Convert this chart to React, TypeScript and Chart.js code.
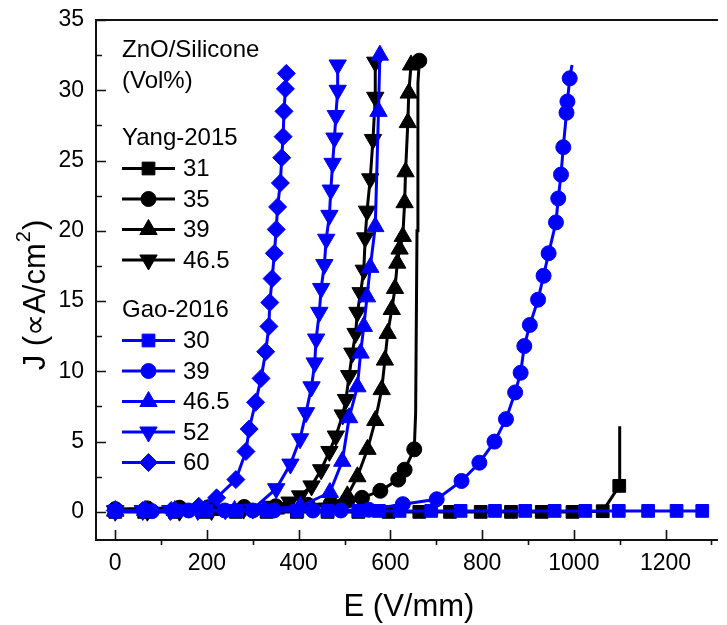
import React, { useEffect, useRef } from 'react';
import { Chart, registerables } from 'chart.js';
import { drawPoint } from 'chart.js/helpers';

Chart.register(...registerables);

// ---------- axis ticks ----------
const X_MAJOR = [0, 200, 400, 600, 800, 1000, 1200];
const X_MINOR = [100, 300, 500, 700, 900, 1100, 1300];
const Y_MAJOR = [0, 5, 10, 15, 20, 25, 30, 35];
const Y_MINOR = [2.5, 7.5, 12.5, 17.5, 22.5, 27.5, 32.5];

// ---------- text ----------
const X_TITLE = 'E (V/mm)';
const Y_TITLE_MAIN = 'J (\u221DA/cm';
const Y_TITLE_SUP = '2';
const Y_TITLE_END = ')';
const LEGEND_HEADER = ['ZnO/Silicone', '(Vol%)'];
const GROUP_YANG = 'Yang-2015';
const GROUP_GAO = 'Gao-2016';

// ---------- Yang-2015 (black) ----------
const yang31E = [0, 63, 130, 196, 263, 330, 396, 463, 530, 596, 663, 730, 797, 863, 930, 997, 1063, 1099];
const yang31J = [0.0, 0.0, 0.0, 0.0, 0.0, 0.0, 0.0, 0.0, 0.0, 0.0, 0.0, 0.0, 0.0, 0.0, 0.0, 0.0, 0.05, 1.85];
const yang31TailE = [1100];
const yang31TailJ = [6.1];

const yang35E = [0, 70, 140, 203, 281, 350, 420, 470, 506, 538, 578, 617, 631, 652];
const yang35J = [0.2, 0.25, 0.3, 0.33, 0.35, 0.4, 0.5, 0.6, 0.8, 1.0, 1.5, 2.3, 3.0, 4.45];
const yang35JumpE = [655, 658, 660];
const yang35JumpJ = [7.0, 20.0, 30.5];
const yang35TopE = [663];
const yang35TopJ = [32.1];

const yang39E = [0, 70, 140, 210, 280, 350, 420, 470, 506, 528, 550, 567, 581, 588, 594, 603, 610, 615, 620, 627, 631, 633, 638, 640, 645];
const yang39J = [0.05, 0.05, 0.1, 0.1, 0.15, 0.2, 0.35, 0.5, 1.14, 2.5, 4.45, 6.5, 8.7, 10.8, 12.7, 14.4, 15.9, 17.7, 18.7, 19.6, 22.0, 24.2, 27.7, 29.8, 31.8];

const yang46E = [0, 70, 140, 210, 280, 340, 380, 403, 428, 449, 467, 481, 496, 503, 510, 517, 524, 528, 535, 542, 545, 549, 556, 562, 567, 567];
const yang46J = [0.05, 0.05, 0.05, 0.1, 0.2, 0.4, 0.7, 1.14, 1.85, 3.0, 4.3, 5.4, 6.9, 8.0, 9.7, 11.3, 12.7, 14.2, 15.6, 17.2, 19.5, 21.4, 23.7, 26.5, 29.5, 32.0];

// ---------- Gao-2016 (blue) ----------
const gao30E = [0, 66, 132, 198, 265, 331, 397, 463, 531, 575, 620, 689, 753, 828, 894, 958, 1025, 1098, 1162, 1224, 1280];
const gao30J = [0.07, 0.07, 0.07, 0.07, 0.07, 0.07, 0.07, 0.07, 0.07, 0.07, 0.07, 0.07, 0.07, 0.07, 0.07, 0.07, 0.07, 0.07, 0.07, 0.07, 0.07];

const gao39E = [0, 80, 160, 239, 300, 346, 431, 492, 553, 627, 701, 755, 794, 827, 852, 872, 884, 892, 904, 922, 934, 945, 961, 966, 972, 977, 984, 986, 991];
const gao39J = [0.05, 0.05, 0.1, 0.1, 0.1, 0.1, 0.1, 0.1, 0.15, 0.55, 0.9, 2.2, 3.5, 5.0, 6.6, 8.5, 9.9, 11.8, 13.3, 15.1, 16.8, 18.4, 20.6, 22.3, 24.0, 25.95, 28.4, 29.2, 30.85];
const gao39TailE = [996];
const gao39TailJ = [31.8];

const gao46E = [0, 65, 130, 195, 260, 325, 403, 468, 495, 510, 528, 535, 542, 549, 556, 567, 574, 577];
const gao46J = [0.1, 0.1, 0.1, 0.1, 0.1, 0.15, 0.4, 1.38, 3.6, 6.7, 8.9, 11.3, 13.2, 15.3, 17.4, 20.3, 28.5, 32.5];

const gao52E = [0, 60, 120, 180, 240, 300, 351, 382, 403, 416, 428, 435, 438, 445, 449, 456, 460, 467, 470, 474, 478, 481, 485, 485];
const gao52J = [0.1, 0.1, 0.1, 0.1, 0.15, 0.2, 1.65, 3.4, 5.2, 7.06, 8.9, 10.6, 12.3, 14.2, 15.9, 17.6, 19.4, 21.1, 22.9, 24.8, 26.6, 28.2, 30.0, 31.8];

const gao60E = [0, 60, 122, 182, 221, 263, 285, 292, 306, 318, 328, 335, 337, 342, 347, 351, 354, 360, 363, 366, 368, 371, 373];
const gao60J = [0.1, 0.1, 0.1, 0.4, 1.0, 2.3, 4.3, 5.9, 7.8, 9.5, 11.4, 13.2, 14.9, 16.6, 18.4, 20.1, 21.7, 23.4, 25.2, 26.7, 28.5, 30.1, 31.2];

const BLACK = '#000000';
const BLUE = '#0000FF';
const FONT = '"Liberation Sans", Arial, Helvetica, sans-serif';

type Pt = { x: number; y: number; m: boolean };
const pts = (E: number[], J: number[], marker = true): Pt[] => E.map((e, i) => ({ x: e, y: J[i], m: marker }));

type Series = { label: string; color: string; style: string; rotation: number; radius: number; data: Pt[] };

const yangSeries: Series[] = [
  { label: '31', color: BLACK, style: 'rect', rotation: 0, radius: 9, data: [...pts(yang31E, yang31J), ...pts(yang31TailE, yang31TailJ, false)] },
  { label: '35', color: BLACK, style: 'circle', rotation: 0, radius: 7.5, data: [...pts(yang35E, yang35J), ...pts(yang35JumpE, yang35JumpJ, false), ...pts(yang35TopE, yang35TopJ)] },
  { label: '39', color: BLACK, style: 'triangle', rotation: 0, radius: 10, data: pts(yang39E, yang39J) },
  { label: '46.5', color: BLACK, style: 'triangle', rotation: 180, radius: 10, data: pts(yang46E, yang46J) },
];
const gaoSeries: Series[] = [
  { label: '30', color: BLUE, style: 'rect', rotation: 0, radius: 9, data: pts(gao30E, gao30J) },
  { label: '39', color: BLUE, style: 'circle', rotation: 0, radius: 7.5, data: [...pts(gao39E, gao39J), ...pts(gao39TailE, gao39TailJ, false)] },
  { label: '46.5', color: BLUE, style: 'triangle', rotation: 0, radius: 10, data: pts(gao46E, gao46J) },
  { label: '52', color: BLUE, style: 'triangle', rotation: 180, radius: 10, data: pts(gao52E, gao52J) },
  { label: '60', color: BLUE, style: 'rectRot', rotation: 0, radius: 9, data: pts(gao60E, gao60J) },
];

const framePlugin = {
  id: 'frame',
  beforeDatasetsDraw(chart: any) {
    const { ctx, chartArea: a, scales } = chart;
    const x = scales.x;
    const y = scales.y;
    ctx.save();
    ctx.strokeStyle = '#111';
    ctx.lineWidth = 2;
    ctx.beginPath();
    ctx.moveTo(a.right + 2, a.top);
    ctx.lineTo(a.left, a.top);
    ctx.lineTo(a.left, a.bottom);
    ctx.lineTo(a.right + 2, a.bottom);
    ctx.stroke();
    ctx.lineWidth = 1.6;
    ctx.beginPath();
    X_MAJOR.forEach((v) => {
      const p = Math.round(x.getPixelForValue(v)) + 0.5;
      ctx.moveTo(p, a.bottom);
      ctx.lineTo(p, a.bottom - 10);
    });
    X_MINOR.forEach((v) => {
      const p = Math.round(x.getPixelForValue(v)) + 0.5;
      ctx.moveTo(p, a.bottom);
      ctx.lineTo(p, a.bottom + 5);
    });
    Y_MAJOR.forEach((v) => {
      const p = Math.round(y.getPixelForValue(v)) + 0.5;
      ctx.moveTo(a.left, p);
      ctx.lineTo(a.left + 10, p);
    });
    Y_MINOR.forEach((v) => {
      const p = Math.round(y.getPixelForValue(v)) + 0.5;
      ctx.moveTo(a.left, p);
      ctx.lineTo(a.left + 6, p);
    });
    ctx.stroke();
    ctx.restore();
  },
  afterDraw(chart: any) {
    const { ctx, chartArea: a } = chart;
    ctx.save();
    ctx.fillStyle = '#000';
    // x title
    ctx.font = `31px ${FONT}`;
    ctx.textAlign = 'center';
    ctx.textBaseline = 'middle';
    ctx.fillText(X_TITLE, (a.left + a.right) / 2 + 3, 607);
    // y title with superscript
    ctx.save();
    ctx.translate(36, 296);
    ctx.rotate(-Math.PI / 2);
    ctx.textAlign = 'left';
    ctx.font = `31px ${FONT}`;
    const w1 = ctx.measureText(Y_TITLE_MAIN).width;
    const w3 = ctx.measureText(Y_TITLE_END).width;
    ctx.font = `20px ${FONT}`;
    const w2 = ctx.measureText(Y_TITLE_SUP).width;
    const start = -(w1 + w2 + w3) / 2;
    ctx.font = `31px ${FONT}`;
    ctx.fillText(Y_TITLE_MAIN, start, 0);
    ctx.font = `20px ${FONT}`;
    ctx.fillText(Y_TITLE_SUP, start + w1 + 1, -12);
    ctx.font = `31px ${FONT}`;
    ctx.fillText(Y_TITLE_END, start + w1 + w2 + 2, 0);
    ctx.restore();

    // legend
    ctx.font = `24px ${FONT}`;
    ctx.textAlign = 'left';
    ctx.textBaseline = 'middle';
    const tx = 122;
    ctx.fillText(LEGEND_HEADER[0], tx, 50);
    ctx.fillText(LEGEND_HEADER[1], tx, 81);
    const drawGroup = (title: string, ty: number, list: Series[]) => {
      ctx.fillStyle = '#000';
      ctx.fillText(title, tx, ty);
      list.forEach((s, i) => {
        const ry = ty + 30.5 * (i + 1);
        ctx.strokeStyle = s.color;
        ctx.fillStyle = s.color;
        ctx.lineWidth = 3;
        ctx.beginPath();
        ctx.moveTo(122, ry);
        ctx.lineTo(175, ry);
        ctx.stroke();
        ctx.lineWidth = 1;
        drawPoint(ctx, { pointStyle: s.style, radius: s.radius, rotation: s.rotation, borderWidth: 1 } as any, 148.5, ry);
        ctx.fillStyle = '#000';
        ctx.fillText(s.label, 183, ry + 1);
      });
    };
    drawGroup(GROUP_YANG, 138, yangSeries);
    drawGroup(GROUP_GAO, 310, gaoSeries);
    ctx.restore();
  },
};

const toDataset = (s: Series) => ({
  label: s.label,
  data: s.data,
  showLine: true,
  borderColor: s.color,
  backgroundColor: s.color,
  borderWidth: 3,
  pointStyle: s.style,
  pointRotation: s.rotation,
  pointRadius: (c: any) => (c.raw && c.raw.m === false ? 0 : s.radius),
  pointBorderWidth: 1,
  pointBorderColor: s.color,
  pointBackgroundColor: s.color,
  tension: 0,
});

export default function App() {
  const ref = useRef<HTMLCanvasElement | null>(null);
  useEffect(() => {
    if (!ref.current) return;
    // first datasets are drawn on top: blue over black
    const datasets = [...gaoSeries.map(toDataset), ...yangSeries.map(toDataset)];
    const tickFont = { family: FONT, size: 23 };
    const chart = new Chart(ref.current, {
      type: 'scatter',
      data: { datasets } as any,
      options: {
        animation: false,
        responsive: false,
        devicePixelRatio: 1,
        layout: { padding: { top: 20, left: 0, right: 0, bottom: 0 } },
        plugins: { legend: { display: false }, tooltip: { enabled: false } },
        scales: {
          x: {
            type: 'linear',
            min: -42,
            max: 1310,
            grid: { display: false, drawTicks: false },
            border: { display: false },
            afterBuildTicks: (s: any) => {
              s.ticks = X_MAJOR.map((v) => ({ value: v }));
            },
            afterFit: (s: any) => {
              s.height = 85;
              s.paddingLeft = 0;
              s.paddingRight = 0;
            },
            ticks: { font: tickFont, color: '#000', padding: 10, maxRotation: 0, autoSkip: false, callback: (v: any) => String(v) },
          },
          y: {
            type: 'linear',
            min: -2,
            max: 35,
            grid: { display: false, drawTicks: false },
            border: { display: false },
            afterBuildTicks: (s: any) => {
              s.ticks = Y_MAJOR.map((v) => ({ value: v }));
            },
            afterFit: (s: any) => {
              s.width = 96;
              s.paddingTop = 0;
              s.paddingBottom = 0;
            },
            ticks: { font: tickFont, color: '#000', padding: 12, autoSkip: false, callback: (v: any) => String(v) },
          },
        },
      } as any,
      plugins: [framePlugin],
    });
    return () => chart.destroy();
  }, []);
  return (
    <div style={{ position: 'absolute', left: 0, top: 0, width: 727, height: 625, background: '#fff' }}>
      <canvas ref={ref} width={727} height={625} style={{ display: 'block' }} />
    </div>
  );
}
